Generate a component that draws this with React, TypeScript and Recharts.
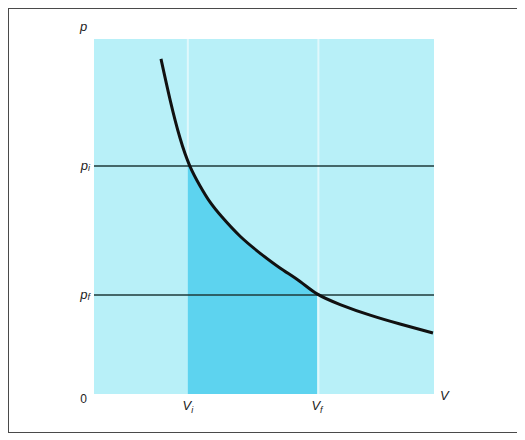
import React from 'react';
import { ComposedChart, Line, Area, XAxis, YAxis, ReferenceLine, ReferenceArea } from 'recharts';

// Volume / pressure marks (arbitrary units, axes 0..100)
const V_I = 27.6;
const V_F = 65.6;
const P_I = 64.2;
const P_F = 27.9;

const curveV = [19.7, 22.4, 25.3, 28.2, 31.2, 34.1, 37.6, 42.9, 48.8, 54.7, 60.6, 65.6, 72.4, 81.2, 90.0, 99.7];
const curveP = [94.4, 82.8, 72.1, 64.2, 58.6, 54.1, 49.9, 44.5, 39.7, 35.5, 31.7, 28.2, 25.2, 22.2, 19.7, 17.2];

const shadeV = [27.6, 28.2, 31.2, 34.1, 37.6, 42.9, 48.8, 54.7, 60.6, 65.6];
const shadeP = [65.8, 64.2, 58.6, 54.1, 49.9, 44.5, 39.7, 35.5, 31.7, 28.2];

const xTicks = [V_I, V_F];
const xTickLabels = [['V', 'i'], ['V', 'f']];
const yTicks = [0, P_F, P_I];
const yTickLabels = [['0', ''], ['p', 'f'], ['p', 'i']];

const curve = curveV.map((v, i) => ({ v, p: curveP[i] }));
const shade = shadeV.map((v, i) => ({ v, p: shadeP[i] }));

const FONT = 'Liberation Sans, Arial, sans-serif';
const TXT = '#222';

const YTick = (props: any) => {
  const idx = yTicks.indexOf(props.payload.value);
  const [main, sub] = yTickLabels[idx] || ['', ''];
  const y = props.y;
  if (!sub) {
    return (
      <text x={78} y={y + 9} textAnchor="end" fontFamily={FONT} fontSize={12} fill={TXT}>
        {main}
      </text>
    );
  }
  return (
    <text x={81} y={y + 4} textAnchor="end" fontFamily={FONT} fontSize={13} fontStyle="italic" fill={TXT}>
      <tspan>{main}</tspan>
      <tspan fontSize={9} dy={1}>{sub}</tspan>
    </text>
  );
};

const XTick = (props: any) => {
  const idx = xTicks.indexOf(props.payload.value);
  const [main, sub] = xTickLabels[idx] || ['', ''];
  return (
    <text x={props.x} y={401} textAnchor="middle" fontFamily={FONT} fontSize={13} fontStyle="italic" fill={TXT}>
      <tspan>{main}</tspan>
      <tspan fontSize={9} dy={3}>{sub}</tspan>
    </text>
  );
};

const XEndLabel = () => (
  <text x={431} y={391} fontFamily={FONT} fontSize={13} fontStyle="italic" fill={TXT}>V</text>
);
const YEndLabel = () => (
  <text x={71} y={22} fontFamily={FONT} fontSize={13} fontStyle="italic" fill={TXT}>p</text>
);

export default function App() {
  return (
    <div style={{ width: 510, height: 423, border: '1px solid #4a4a4a', background: '#fff' }}>
      <ComposedChart width={510} height={423} margin={{ top: 30, right: 85, left: 0, bottom: 0 }}>
        <XAxis
          type="number"
          dataKey="v"
          domain={[0, 100]}
          ticks={xTicks}
          tick={<XTick />}
          axisLine={false}
          tickLine={false}
          height={38}
          allowDataOverflow
          label={<XEndLabel />}
        />
        <YAxis
          type="number"
          dataKey="p"
          domain={[0, 100]}
          ticks={yTicks}
          tick={<YTick />}
          axisLine={false}
          tickLine={false}
          width={85}
          allowDataOverflow
          label={<YEndLabel />}
        />
        <ReferenceArea x1={0} x2={100} y1={0} y2={100} fill="#b8f0f8" fillOpacity={1} stroke="none" />
        <ReferenceLine segment={[{ x: V_I, y: 65.8 }, { x: V_I, y: 100 }]} stroke="#dff8fc" strokeWidth={2} />
        <ReferenceLine x={V_F + 0.4} stroke="#dff8fc" strokeWidth={2} />
        <Area
          data={shade}
          dataKey="p"
          type="natural"
          fill="#5dd3ef"
          fillOpacity={1}
          stroke="none"
          baseValue={0}
          isAnimationActive={false}
        />
        <ReferenceLine y={P_I} stroke="#1e3a3a" strokeWidth={1.5} />
        <ReferenceLine y={P_F} stroke="#1e3a3a" strokeWidth={1.5} />
        <Line
          data={curve}
          dataKey="p"
          type="natural"
          stroke="#111"
          strokeWidth={3}
          dot={false}
          isAnimationActive={false}
        />
      </ComposedChart>
    </div>
  );
}
